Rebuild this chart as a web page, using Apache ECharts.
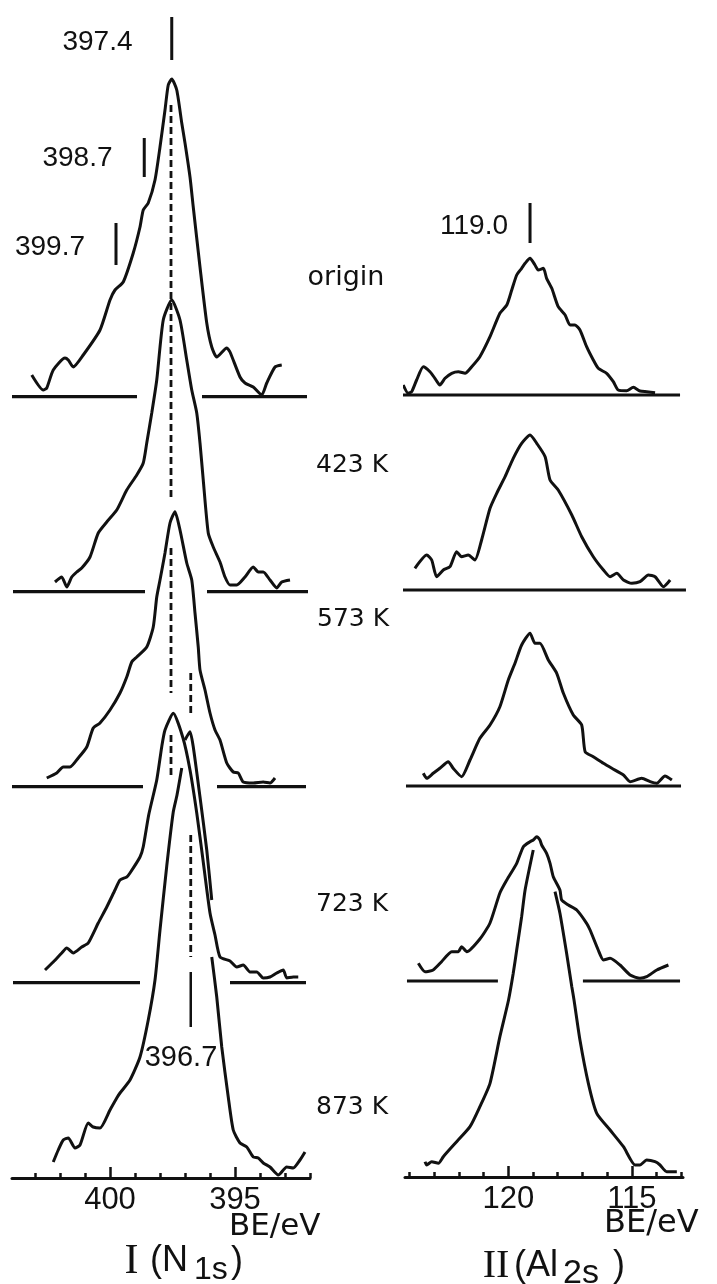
<!DOCTYPE html>
<html>
<head>
<meta charset="utf-8">
<script src="https://cdn.jsdelivr.net/npm/echarts@6/dist/echarts.min.js"></script>
<style>
  html, body { margin: 0; padding: 0; background: #fff; }
  #chart { width: 717px; height: 1284px; }
</style>
</head>
<body>
<div id="chart"></div>
<script>
// spectra as [BE (eV), intensity (a.u.)]
var tempLabels = ['origin', '423 K', '573 K', '723 K', '873 K'];

var n1sOrigin = [[403.13,21.7],[402.67,6.7],[402.53,8.7],[402.27,26.7],[401.8,38.7],[401.67,36.7],[401.47,29.7],[401.07,41.7],[400.4,66.7],[400.0,96.7],[399.8,106.7],[399.47,114.7],[399.07,143.7],[398.8,169.7],[398.67,186.7],[398.47,193.7],[398.2,216.7],[398.0,249.7],[397.8,286.7],[397.67,311.7],[397.53,317.7],[397.33,306.7],[397.13,273.7],[397.0,253.7],[396.8,219.7],[396.67,189.7],[396.4,129.7],[396.13,73.7],[395.93,49.7],[395.73,39.7],[395.33,48.7],[395.2,44.7],[394.8,19.7],[394.6,13.7],[394.27,9.7],[393.93,1.7],[393.73,13.7],[393.4,29.7],[393.13,31.7]];
var n1s423 = [[402.2,9.7],[401.93,14.7],[401.73,4.7],[401.53,14.7],[401.33,19.7],[401.13,23.7],[400.8,34.7],[400.47,58.7],[400.13,69.7],[399.73,81.7],[399.33,101.7],[398.93,116.7],[398.67,128.7],[398.53,148.7],[398.33,178.7],[398.13,211.7],[397.87,271.7],[397.53,291.7],[397.2,271.7],[396.93,231.7],[396.73,201.7],[396.53,178.7],[396.4,148.7],[396.27,111.7],[396.07,58.7],[395.87,44.7],[395.6,29.7],[395.4,14.7],[395.2,6.7],[394.93,6.7],[394.6,14.7],[394.27,24.7],[394.07,19.7],[393.87,19.7],[393.6,11.7],[393.33,3.7],[393.13,9.7],[392.8,11.7]];
var n1s573 = [[402.53,8.7],[402.13,13.7],[401.87,19.7],[401.6,19.7],[401.27,28.7],[400.93,39.7],[400.67,58.7],[400.4,63.7],[400.0,76.7],[399.6,93.7],[399.33,109.7],[399.13,124.7],[398.93,129.7],[398.53,139.7],[398.27,159.7],[398.13,189.7],[398.0,206.7],[397.8,233.7],[397.6,263.7],[397.4,275],[397.2,256.7],[396.93,223.7],[396.73,206.7],[396.6,173.7],[396.47,139.7],[396.4,116.7],[396.2,96.7],[396.0,73.7],[395.8,56.7],[395.6,46.7],[395.33,23.7],[395.07,14.7],[394.87,13.7],[394.67,4.7],[394.27,3.7],[393.87,4.7],[393.6,3.7],[393.4,8.7]];
var n1s723 = [[402.6,12.7],[402.27,20.7],[401.93,29.7],[401.73,34.7],[401.47,29.7],[401.13,35.7],[400.87,39.7],[400.47,59.7],[400.13,75.7],[399.8,92.7],[399.6,102.7],[399.33,105.7],[399.2,109.7],[398.8,125.7],[398.67,136],[398.45,168],[398.13,202.7],[397.93,236],[397.8,252.7],[397.47,269.4],[397.08,244.7],[396.8,212.7],[396.53,169.7],[396.28,122.7],[396.0,69.7],[395.8,47.7],[395.6,25.7],[395.2,21.7],[394.93,15.7],[394.67,17.7],[394.4,10.7],[394.13,10.7],[393.87,4.7],[393.6,5.7],[393.33,9.7],[393.07,12.7],[392.93,4.7],[392.67,5.7],[392.47,5.7]];
var n1s873 = [[402.27,16],[402.07,28],[401.87,38],[401.67,40],[401.4,30],[401.2,33],[400.87,55],[400.67,51],[400.4,50],[400.0,68],[399.73,80],[399.6,85],[399.2,98],[398.8,121],[398.47,158],[398.2,198],[398.0,248],[397.73,312],[397.47,366],[397.32,383],[397.13,410],[null,null],[397.0,438],[396.8,446.3],[396.67,431.3],[396.4,381],[396.13,328],[395.93,278],[null,null],[395.93,221],[395.73,181],[395.53,131],[395.27,81],[395.07,48],[394.8,35],[394.53,31],[394.27,21],[394.07,20],[393.87,15],[393.6,11],[393.27,3],[392.93,11],[392.67,10],[392.4,18],[392.2,26]];

var alOrigin = [[124.25,10],[124.05,1.7],[123.91,3.3],[123.71,15],[123.44,28.3],[123.17,23.3],[122.97,16.7],[122.77,10],[122.56,16.7],[122.29,21.7],[122.02,23.3],[121.75,21.7],[121.48,28.3],[121.15,38.3],[120.74,58.3],[120.34,81.7],[120.06,90],[119.86,105],[119.66,120],[119.46,126.7],[119.32,131.7],[119.12,136.7],[118.92,130],[118.79,125],[118.58,126.7],[118.45,116.7],[118.24,106.7],[117.98,88.3],[117.7,80],[117.5,70],[117.3,70],[117.1,65],[116.83,48.3],[116.56,35],[116.36,26.7],[116.02,21.7],[115.75,13.3],[115.55,5],[115.21,4.3],[114.94,7.7],[114.67,4],[114.4,3.3],[114.06,2.3]];
var al423 = [[123.78,21.7],[123.3,35],[123.1,30],[122.9,13.3],[122.63,20],[122.36,23.3],[122.09,38.3],[121.89,33.3],[121.62,35],[121.35,30],[121.08,50],[120.74,81.7],[120.47,96.7],[120.13,113.3],[119.8,131.7],[119.46,146.7],[119.12,155],[118.85,146.7],[118.51,133.3],[118.31,110],[117.98,100],[117.43,75],[117.03,53.3],[116.56,33.3],[116.15,20],[115.88,13.3],[115.61,16.7],[115.34,10],[115.0,6.7],[114.67,8.3],[114.33,15],[114.06,13.3],[113.72,3.3],[113.45,10]];
var al573 = [[123.44,12.7],[123.3,7.7],[123.04,12.7],[122.77,17.7],[122.43,24.3],[122.23,17.7],[121.89,9.3],[121.55,26],[121.15,47.7],[120.74,61],[120.34,79.3],[120.0,106],[119.73,122.7],[119.46,141],[119.12,152.7],[118.92,142.7],[118.72,142.7],[118.38,126],[118.04,112.7],[117.77,92.7],[117.37,71],[117.03,61],[116.89,34.3],[116.56,29.3],[116.15,22.7],[115.81,17.7],[115.34,11],[115.07,4.3],[114.6,7.7],[114.26,4.3],[113.99,2.7],[113.66,10],[113.38,6]];
var al723 = [[123.64,17.7],[123.37,9.3],[123.04,11],[122.7,19.3],[122.29,29.3],[122.02,29.3],[121.89,34.3],[121.68,29.3],[121.15,42],[120.74,58],[120.34,88],[120.06,101],[119.66,117.7],[119.39,134.3],[119.12,139.3],[118.99,141],[118.85,144.3],[118.72,141],[118.65,136],[118.45,127.7],[118.31,117.7],[118.18,104.3],[117.91,91],[117.84,81],[117.57,76],[117.23,71],[116.83,57.7],[116.69,51],[116.36,31],[116.15,21],[115.88,22.7],[115.48,16],[115.07,6],[114.67,2.7],[114.4,4.3],[113.99,11],[113.52,16]];
var al873 = [[123.37,15.3],[123.3,12],[123.1,15.3],[122.83,13.7],[122.63,20.3],[122.09,35.3],[121.55,50.3],[121.15,70.3],[120.74,93.7],[120.34,140.3],[119.99,177],[119.8,203.7],[119.66,227],[119.46,260.3],[119.32,287],[118.99,327],[null,null],[118.11,285.3],[117.91,263.7],[117.64,223.7],[117.43,190.3],[117.34,177],[117.1,137],[116.76,93.7],[116.42,63.7],[115.88,47],[115.34,30.3],[114.87,12],[114.67,12],[114.4,17],[114.06,15.3],[113.86,12],[113.59,5.3],[113.18,5.3]];

// zero lines drawn under each spectrum: [from, to, (from, to)] in eV
var n1sZero = [[403.92,398.92,396.32,392.12],[403.88,398.6,396.12,392.08],[403.92,398.68,395.72,392.16],[403.88,398.8,395.2,392.16]];
var alZero = [[124.63,113.05],[124.39,112.81],[124.14,113.01],[124.1,120.42,116.98,113.05]];

// peak position markers
var n1sMarkBE = [397.53, 398.63, 399.76];
var n1sMarkSpan = [[336.7,379.7],[219.7,258.7],[131.7,173.7]];
var n1sMarkText = ['397.4', '398.7', '399.7'];
var n1sNitrideBE = 396.77, n1sNitrideSpan = [151, 206], n1sNitrideText = '396.7';
var alMarkBE = 119.12, alMarkSpan = [152, 192], alMarkText = '119.0';

// dashed guides through the peaks (drawn in the 873 K frame)
var n1sGuideBE = [397.56, 396.77];
var n1sGuideSpans = [[[1073,681],[630,485],[443,401]], [[505,465],[343,221]]];

var n1sMinorTicks = [392,393,394,395,396,397,398,399,400,401,402,403];
var n1sMajorTicks = [395, 400];
var alMinorTicks = [113,114,115,116,117,118,119,120,121,122,123,124];
var alMajorTicks = [115, 120];

var INK = '#111';
var TOP = 10;
var cols = [
  { left: 12, width: 298, range: [392, 403.92], base: [396.7, 591.7, 786.7, 982.7, 1178],
    spectra: [n1sOrigin, n1s423, n1s573, n1s723, n1s873], zero: n1sZero, minor: n1sMinorTicks, major: n1sMajorTicks },
  { left: 405, width: 278, range: [112.93, 124.18], base: [395, 590, 786, 981, 1177],
    spectra: [alOrigin, al423, al573, al723, al873], zero: alZero, minor: alMinorTicks, major: alMajorTicks }
];

function zeroLine(seg) {
  var d = [[seg[0], 0], [seg[1], 0]];
  if (seg.length > 2) d.push([null, null], [seg[2], 0], [seg[3], 0]);
  return d;
}
function vbars(be, spans) {
  var d = [];
  spans.forEach(function (s, i) {
    if (i) d.push([null, null]);
    d.push([be, s[0]], [be, s[1]]);
  });
  return d;
}

var grids = [], xAxes = [], yAxes = [], series = [];
cols.forEach(function (c, ci) {
  c.base.forEach(function (b, ri) {
    var gi = ci * 5 + ri;
    var h = b - TOP;
    var bottomRow = ri === 4;
    grids.push({ left: c.left, width: c.width, top: TOP, height: h });
    xAxes.push({
      gridIndex: gi, type: 'value', inverse: true, position: 'bottom',
      min: c.range[0], max: c.range[1], show: bottomRow,
      axisLine: { show: true, lineStyle: { color: INK, width: 3 } },
      axisTick: { show: true, inside: true, length: 5, customValues: c.minor, lineStyle: { color: INK, width: 2.5 } },
      axisLabel: { customValues: c.major, color: INK, fontSize: 31, fontFamily: 'Liberation Sans', margin: 7 },
      splitLine: { show: false }
    });
    yAxes.push({ gridIndex: gi, type: 'value', min: 0, max: h, show: false });
    series.push({
      type: 'line', xAxisIndex: gi, yAxisIndex: gi, data: c.spectra[ri],
      symbol: 'none', smooth: 0.2, clip: false, silent: true,
      lineStyle: { color: INK, width: 3 }
    });
    if (!bottomRow) {
      series.push({
        type: 'line', xAxisIndex: gi, yAxisIndex: gi, data: zeroLine(c.zero[ri]),
        symbol: 'none', clip: false, silent: true,
        lineStyle: { color: INK, width: 3.2 }
      });
    }
  });
});
// longer ticks at the labelled values (axes 10 and 11, after the ten frame axes)
cols.forEach(function (c, ci) {
  xAxes.push({
    gridIndex: ci * 5 + 4, type: 'value', inverse: true, position: 'bottom',
    min: c.range[0], max: c.range[1],
    axisLine: { show: false },
    axisTick: { show: true, inside: true, length: 11, customValues: c.major, lineStyle: { color: INK, width: 2.5 } },
    axisLabel: { show: false }, splitLine: { show: false }
  });
});

// markers
var markData = [];
n1sMarkBE.forEach(function (be, i) {
  if (i) markData.push([null, null]);
  markData.push([be, n1sMarkSpan[i][0]], [be, n1sMarkSpan[i][1]]);
});
series.push({ type: 'line', xAxisIndex: 0, yAxisIndex: 0, data: markData, symbol: 'none', clip: false, silent: true,
  lineStyle: { color: INK, width: 3 } });
series.push({ type: 'line', xAxisIndex: 4, yAxisIndex: 4, data: vbars(n1sNitrideBE, [n1sNitrideSpan]), symbol: 'none', clip: false, silent: true,
  lineStyle: { color: INK, width: 2.5 } });
series.push({ type: 'line', xAxisIndex: 5, yAxisIndex: 5, data: vbars(alMarkBE, [alMarkSpan]), symbol: 'none', clip: false, silent: true,
  lineStyle: { color: INK, width: 3 } });
var guideData = [];
n1sGuideBE.forEach(function (be, i) {
  if (i) guideData.push([null, null]);
  guideData = guideData.concat(vbars(be, n1sGuideSpans[i]));
});
series.push({ type: 'line', xAxisIndex: 4, yAxisIndex: 4, data: guideData, symbol: 'none', clip: false, silent: true,
  lineStyle: { color: INK, width: 2.8, type: [7, 4] } });

function txt(s, x, y, size, family, align) {
  return { type: 'text', x: x, y: y, silent: true,
    style: { text: s, fill: INK, fontSize: size, fontFamily: family,
      align: align || 'center', textAlign: align || 'center', verticalAlign: 'middle', textVerticalAlign: 'middle' } };
}
var NUM = 'Liberation Sans', LAB = 'DejaVu Sans';
var tempPos = [[346, 278], [352, 465], [353, 619], [352, 904], [352, 1107]];
var graphic = [
  txt(n1sMarkText[0], 97.5, 42, 28, NUM),
  txt(n1sMarkText[1], 77.5, 158, 28, NUM),
  txt(n1sMarkText[2], 50, 247, 28, NUM),
  txt(alMarkText, 474, 226, 28, NUM),
  txt(n1sNitrideText, 181, 1058, 29, "'Liberation Sans Narrow', 'Liberation Sans'"),
  txt('BE/eV', 229, 1227, 31, LAB, 'left'),
  txt('BE/eV', 604, 1224, 32, LAB, 'left'),
  txt('I', 131.5, 1262, 42, 'Liberation Serif'),
  txt('(N', 150, 1261, 36, NUM, 'left'),
  txt('1s', 194, 1270, 32, NUM, 'left'),
  txt(')', 231, 1262, 36, NUM, 'left'),
  txt('II', 496, 1266, 40, 'Liberation Serif'),
  txt('(Al', 514, 1266, 36, NUM, 'left'),
  txt('2s', 563, 1274, 34, NUM, 'left'),
  txt(')', 613, 1266, 36, NUM, 'left')
];
tempLabels.forEach(function (t, i) {
  graphic.push(txt(t, tempPos[i][0], tempPos[i][1], i ? 25 : 27, LAB));
});

var myChart = echarts.init(document.getElementById('chart'), null, { renderer: 'canvas' });
myChart.setOption({
  animation: false,
  backgroundColor: '#fff',
  grid: grids,
  xAxis: xAxes,
  yAxis: yAxes,
  series: series,
  graphic: graphic
});
</script>
</body>
</html>
